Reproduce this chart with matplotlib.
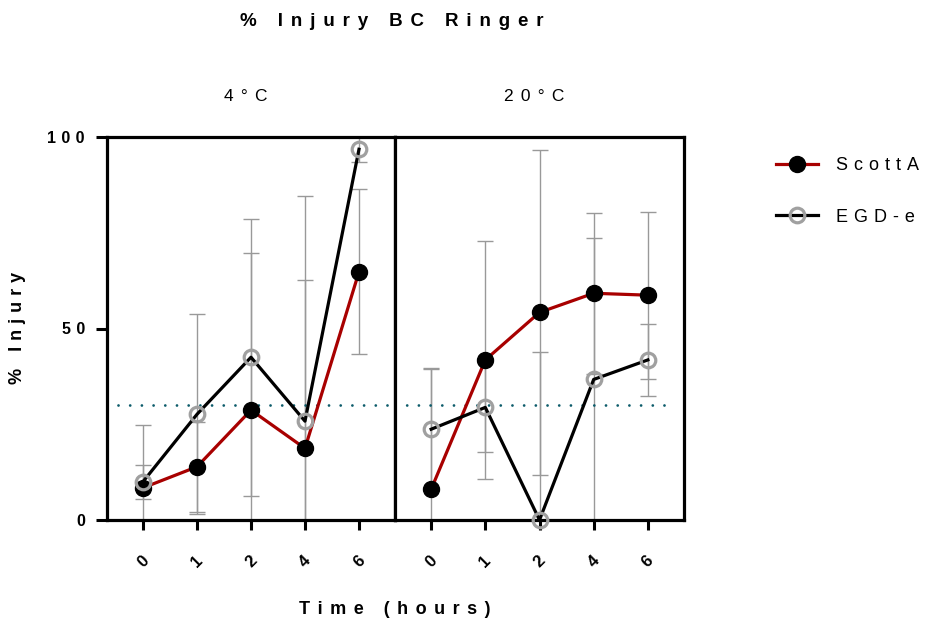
import numpy as np
import matplotlib.pyplot as plt
from matplotlib.lines import Line2D

plt.rcParams['font.family'] = ['Liberation Sans', 'DejaVu Sans']

times = ['0', '1', '2', '4', '6']
panels = ['4°C', '20°C']
series = ['ScottA', 'EGD-e']

scott_4 = [8.4, 13.9, 28.7, 18.7, 64.8]
scott_4_err = [16.4, 11.7, 40.9, 44.0, 21.5]
egd_4 = [10.0, 27.6, 42.5, 25.8, 96.8]
egd_4_err = [4.4, 26.1, 36.2, 58.9, 3.3]

scott_20 = [8.0, 41.8, 54.2, 59.2, 58.7]
scott_20_err = [31.3, 31.1, 42.4, 21.0, 21.8]
egd_20 = [23.7, 29.4, 0.0, 36.7, 41.8]
egd_20_err = [15.9, 11.6, 43.8, 36.8, 9.5]

threshold = 30

red = '#a80000'
grey = '#a0a0a0'
errc = '#999999'

WIDE = '\u2005\u2006'   # letter spacing like the Prism export
NARROW = '\u2004'


def spaced(s, gap=WIDE):
    return gap.join(s)


fig = plt.figure(figsize=(9.25, 6.25), dpi=100)
ax1 = fig.add_axes([107/925, 105/625, 288/925, 383/625])
ax2 = fig.add_axes([395/925, 105/625, 289/925, 383/625])

data = [(ax1, scott_4, scott_4_err, egd_4, egd_4_err, (0.038, 1.0)),
        (ax2, scott_20, scott_20_err, egd_20, egd_20_err, (0.0, 0.958))]

x = np.arange(len(times))
for i, (ax, s, se, e, ee, span) in enumerate(data):
    ax.errorbar(x, s, yerr=se, fmt='none', ecolor=errc, elinewidth=1,
                capsize=6, capthick=1, zorder=1)
    ax.errorbar(x, e, yerr=ee, fmt='none', ecolor=errc, elinewidth=1,
                capsize=6, capthick=1, zorder=1)
    ax.axhline(threshold, xmin=span[0], xmax=span[1], color='#0d5c6b', lw=2,
               linestyle=(0, (0.01, 4.2)), dash_capstyle='round', zorder=2)
    ax.plot(x, s, color=red, lw=2.3, marker='o', ms=11.5, mfc='black',
            mec='black', zorder=3, clip_on=False)
    ax.plot(x, e, color='black', lw=2.3, marker='o', ms=10.5, mfc='none',
            mec=grey, mew=2.3, zorder=4, clip_on=False)

    ax.set_xlim(-0.667, len(times) - 1 + 0.667)
    ax.set_ylim(0, 100)
    ax.set_xticks(x)
    ax.set_xticklabels(times, rotation=45, fontweight='bold', fontsize=12)
    ax.tick_params(axis='x', length=7, width=2.2, pad=17)
    for sp in ax.spines.values():
        sp.set_linewidth(2.3)
    ax.set_title(spaced(panels[i]), fontsize=12.5, pad=26, x=0.482)

ax1.set_yticks([0, 50, 100])
ax1.set_yticklabels([spaced(t, NARROW) for t in ['0', '50', '100']],
                    fontweight='bold', fontsize=11.5)
ax1.tick_params(axis='y', length=8, width=2.2, pad=8)
ax2.set_yticks([])

fig.text(392/925, 1 - 22/625, spaced('% Injury BC Ringer'), ha='center',
         va='center', fontsize=13.5, fontweight='bold')
fig.text(395/925, 1 - 610/625, spaced('Time (hours)'), ha='center',
         va='center', fontsize=13, fontweight='bold')
fig.text(18/925, 1 - 328/625, spaced('% Injury', NARROW), ha='center',
         va='center', rotation=90, fontsize=13, fontweight='bold')

handles = [
    Line2D([], [], color=red, lw=2.3, marker='o', ms=11.5, mfc='black', mec='black'),
    Line2D([], [], color='black', lw=2.3, marker='o', ms=10.5, mfc='none',
           mec=grey, mew=2.3),
]
fig.legend(handles, [spaced(t, NARROW) for t in series], loc='upper left',
           bbox_to_anchor=(760/925, 1 - 141/625), frameon=False, fontsize=13,
           handlelength=2.3, handletextpad=1.0, labelspacing=1.9)

plt.savefig('out.png', dpi=100)
